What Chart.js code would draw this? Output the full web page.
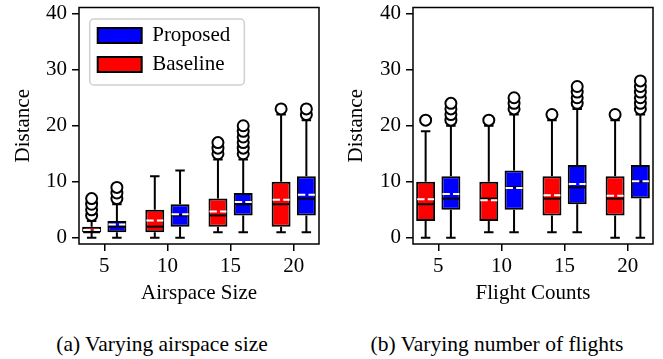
<!DOCTYPE html>
<html>
<head>
<meta charset="utf-8">
<script src="https://cdn.jsdelivr.net/npm/chart.js@4.4.1/dist/chart.umd.min.js"></script>
<style>
  body { margin: 0; background: #fff; width: 663px; height: 359px; position: relative; overflow: hidden; }
  canvas { position: absolute; top: 0; }
  #chartA { left: 0; }
  #chartB { left: 333px; }
  .caption { position: absolute; top: 332px; line-height: 24px;
             font-family: "Liberation Serif", "Times New Roman", Times, "DejaVu Serif", serif;
             font-size: 21.5px; color: #000; transform: translateX(-50%); white-space: nowrap; }
</style>
</head>
<body>
<canvas id="chartA" width="330" height="310"></canvas>
<canvas id="chartB" width="330" height="310"></canvas>
<div class="caption" style="left:162px">(a) Varying airspace size</div>
<div class="caption" style="left:497px">(b) Varying number of flights</div>
<script>
var groups = ['5', '10', '15', '20'];
var yTicks = [0, 10, 20, 30, 40];

// (a) airspace size - baseline
var sizeBaseQ1 = [1, 1, 2, 2];
var sizeBaseMed = [1, 2, 4, 6];
var sizeBaseQ3 = [2, 5, 7, 10];
var sizeBaseMean = [1.4, 3.1, 4.7, 6.8];
var sizeBaseLo = [0, 0, 1, 1];
var sizeBaseHi = [3, 11, 14, 22];
var sizeBaseOut = [[4, 5, 6, 7], [], [15, 16, 17], [23]];

// (a) airspace size - proposed
var sizePropQ1 = [1, 2, 4, 4];
var sizePropMed = [2, 4, 6, 7];
var sizePropQ3 = [3, 6, 8, 11];
var sizePropMean = [2.4, 4.2, 6.4, 7.7];
var sizePropLo = [0, 0, 1, 1];
var sizePropHi = [6, 12, 14, 21];
var sizePropOut = [[7, 8, 9], [], [15, 16, 17, 18, 19, 20], [22, 23]];

// (b) flight counts - baseline
var flightBaseQ1 = [3, 3, 4, 4];
var flightBaseMed = [6, 7, 7, 7];
var flightBaseQ3 = [10, 10, 11, 11];
var flightBaseMean = [6.9, 6.7, 7.6, 7.5];
var flightBaseLo = [0, 1, 1, 0];
var flightBaseHi = [19, 20, 21, 21];
var flightBaseOut = [[21], [21], [22], [22]];

// (b) flight counts - proposed
var flightPropQ1 = [5, 5, 6, 7];
var flightPropMed = [7, 9, 9, 10];
var flightPropQ3 = [11, 12, 13, 13];
var flightPropMean = [7.8, 8.9, 9.6, 10.1];
var flightPropLo = [0, 1, 1, 0];
var flightPropHi = [20, 22, 23, 22];
var flightPropOut = [[21, 22, 23, 24], [23, 24, 25], [24, 25, 26, 27], [23, 24, 25, 26, 27, 28]];

function stats(q1, med, q3, mean, lo, hi, out) {
  return { q1: q1, med: med, q3: q3, mean: mean, lo: lo, hi: hi, out: out };
}

var SHIFT = 0.2;    // offset of each box from the group tick
var BOXW = 0.3;     // box width in x units
var CAPW = 0.15;    // whisker cap width

var serif = "'Liberation Serif', 'Times New Roman', Times, 'DejaVu Serif', serif";
var tickFont = { family: serif, size: 21 };
var labelFont = { family: serif, size: 21 };

// whiskers, caps, medians, means, frame and legend box
var boxPlugin = {
  id: 'boxExtras',
  afterLayout: function (chart) {
    var lg = chart.legend, a = chart.chartArea;
    if (!lg || !lg.options.display) return;
    lg.left = a.left + 10.7;
    lg.top = a.top + 9.5;
    lg.right = a.right;
    lg.bottom = a.bottom;
  },
  beforeDraw: function (chart) {
    var lg = chart.legend;
    if (!lg || !lg.options.display || !lg.legendHitBoxes.length) return;
    var hb = lg.legendHitBoxes, ctx = chart.ctx;
    var l = hb[0].left - 8, t = hb[0].top - 6, r = 0;
    hb.forEach(function (h) { r = Math.max(r, h.left + h.width); });
    var last = hb[hb.length - 1];
    var b = last.top + last.height + 10;
    r += 14;
    ctx.save();
    ctx.beginPath();
    ctx.roundRect(l, t, r - l, b - t, 4);
    ctx.fillStyle = 'rgba(255,255,255,0.8)';
    ctx.fill();
    ctx.strokeStyle = '#d0d0d0';
    ctx.lineWidth = 1.5;
    ctx.stroke();
    ctx.restore();
  },
  beforeDatasetsDraw: function (chart) {
    var xs = chart.scales.x, ys = chart.scales.y, ctx = chart.ctx;
    ctx.save();
    ctx.strokeStyle = '#000';
    ctx.lineWidth = 2;
    chart.data.datasets.forEach(function (ds) {
      if (!ds.stats) return;
      var s = ds.stats;
      s.q1.forEach(function (q1, i) {
        var p = i + 1 + ds.off;
        var px = xs.getPixelForValue(p);
        var c0 = xs.getPixelForValue(p - CAPW / 2), c1 = xs.getPixelForValue(p + CAPW / 2);
        var yLo = ys.getPixelForValue(s.lo[i]), yHi = ys.getPixelForValue(s.hi[i]);
        ctx.beginPath();
        ctx.moveTo(px, yLo); ctx.lineTo(px, ys.getPixelForValue(q1));
        ctx.moveTo(px, ys.getPixelForValue(s.q3[i])); ctx.lineTo(px, yHi);
        ctx.moveTo(c0, yLo); ctx.lineTo(c1, yLo);
        ctx.moveTo(c0, yHi); ctx.lineTo(c1, yHi);
        ctx.stroke();
      });
    });
    ctx.restore();
  },
  afterDatasetsDraw: function (chart) {
    var xs = chart.scales.x, ys = chart.scales.y, ctx = chart.ctx;
    ctx.save();
    ctx.lineWidth = 2;
    chart.data.datasets.forEach(function (ds) {
      if (!ds.stats) return;
      var s = ds.stats;
      s.med.forEach(function (m, i) {
        var p = i + 1 + ds.off;
        var x0 = xs.getPixelForValue(p - BOXW / 2) + 1, x1 = xs.getPixelForValue(p + BOXW / 2) - 1;
        var ym = ys.getPixelForValue(m);
        ctx.setLineDash([]);
        ctx.strokeStyle = '#000';
        ctx.beginPath(); ctx.moveTo(x0, ym); ctx.lineTo(x1, ym); ctx.stroke();
        var ya = ys.getPixelForValue(s.mean[i]);
        ctx.setLineDash([7.4, 3.2]);
        ctx.strokeStyle = '#fff';
        ctx.beginPath(); ctx.moveTo(x0, ya); ctx.lineTo(x1, ya); ctx.stroke();
      });
    });
    ctx.restore();
  },
  afterDraw: function (chart) {
    var a = chart.chartArea, ctx = chart.ctx;
    ctx.save();
    ctx.strokeStyle = '#000';
    ctx.lineWidth = 1.5;
    ctx.strokeRect(a.left, a.top, a.right - a.left, a.bottom - a.top);
    ctx.restore();
  }
};

function boxData(s, off) {
  return s.q1.map(function (v, i) { return { x: i + 1 + off, y: [v, s.q3[i]] }; });
}

function flierData(s, off) {
  var pts = [];
  s.out.forEach(function (vals, i) {
    vals.forEach(function (v) { pts.push({ x: i + 1 + off, y: v }); });
  });
  return pts;
}

function buildChart(id, prop, base, xTitle, yWidth, rightPad, showLegend) {
  var fliers = {
    type: 'scatter', pointRadius: 5.5, pointBorderWidth: 2,
    pointBackgroundColor: '#fff', pointBorderColor: '#000', pointHoverRadius: 5.5
  };
  return new Chart(document.getElementById(id), {
    type: 'bar',
    data: {
      datasets: [
        { label: 'Proposed', data: boxData(prop, SHIFT), backgroundColor: '#0000ff', borderColor: '#000',
          borderWidth: 2, borderSkipped: false, grouped: false, barPercentage: 0.75, categoryPercentage: 1,
          stats: prop, off: SHIFT },
        { label: 'Baseline', data: boxData(base, -SHIFT), backgroundColor: '#ff0000', borderColor: '#000',
          borderWidth: 2, borderSkipped: false, grouped: false, barPercentage: 0.75, categoryPercentage: 1,
          stats: base, off: -SHIFT },
        Object.assign({ label: 'Proposed outliers', data: flierData(prop, SHIFT) }, fliers),
        Object.assign({ label: 'Baseline outliers', data: flierData(base, -SHIFT) }, fliers)
      ]
    },
    options: {
      responsive: false,
      animation: false,
      devicePixelRatio: 1,
      layout: { padding: { left: 0, top: 5, right: rightPad, bottom: 0 } },
      plugins: {
        tooltip: { enabled: false },
        legend: {
          display: showLegend,
          position: 'chartArea',
          align: 'start',
          labels: {
            boxWidth: 44, boxHeight: 15, padding: 8, color: '#000', font: labelFont,
            filter: function (item) { return item.datasetIndex < 2; }
          }
        }
      },
      scales: {
        x: {
          type: 'linear', min: 0.6, max: 4.4, offset: false,
          ticks: {
            stepSize: 1, includeBounds: false, autoSkip: false, maxRotation: 0,
            color: '#000', font: tickFont, padding: 3,
            callback: function (v) { return groups[Math.round(v) - 1]; }
          },
          grid: { offset: false, drawOnChartArea: false, tickLength: 7, color: '#000', lineWidth: 1.5 },
          border: { display: false },
          title: { display: true, text: xTitle, color: '#000', font: labelFont, padding: { top: 0, bottom: 4 } },
          afterFit: function (s) { s.height = 66; s.paddingLeft = 0; s.paddingRight = 0; }
        },
        y: {
          min: -1.1, max: 41.1,
          afterBuildTicks: function (s) { s.ticks = yTicks.map(function (v) { return { value: v }; }); },
          ticks: { color: '#000', font: tickFont, padding: 5 },
          grid: { drawOnChartArea: false, tickLength: 7, color: '#000', lineWidth: 1.5 },
          border: { display: false },
          title: { display: true, text: 'Distance', color: '#000', font: labelFont, padding: { top: 11, bottom: 0 } },
          afterFit: function (s) { s.width = yWidth; s.paddingTop = 0; s.paddingBottom = 0; }
        }
      }
    },
    plugins: [boxPlugin]
  });
}

var sizeProp = stats(sizePropQ1, sizePropMed, sizePropQ3, sizePropMean, sizePropLo, sizePropHi, sizePropOut);
var sizeBase = stats(sizeBaseQ1, sizeBaseMed, sizeBaseQ3, sizeBaseMean, sizeBaseLo, sizeBaseHi, sizeBaseOut);
var flightProp = stats(flightPropQ1, flightPropMed, flightPropQ3, flightPropMean, flightPropLo, flightPropHi, flightPropOut);
var flightBase = stats(flightBaseQ1, flightBaseMed, flightBaseQ3, flightBaseMean, flightBaseLo, flightBaseHi, flightBaseOut);

buildChart('chartA', sizeProp, sizeBase, 'Airspace Size', 79, 11, true);
buildChart('chartB', flightProp, flightBase, 'Flight Counts', 80, 10, false);
</script>
</body>
</html>
